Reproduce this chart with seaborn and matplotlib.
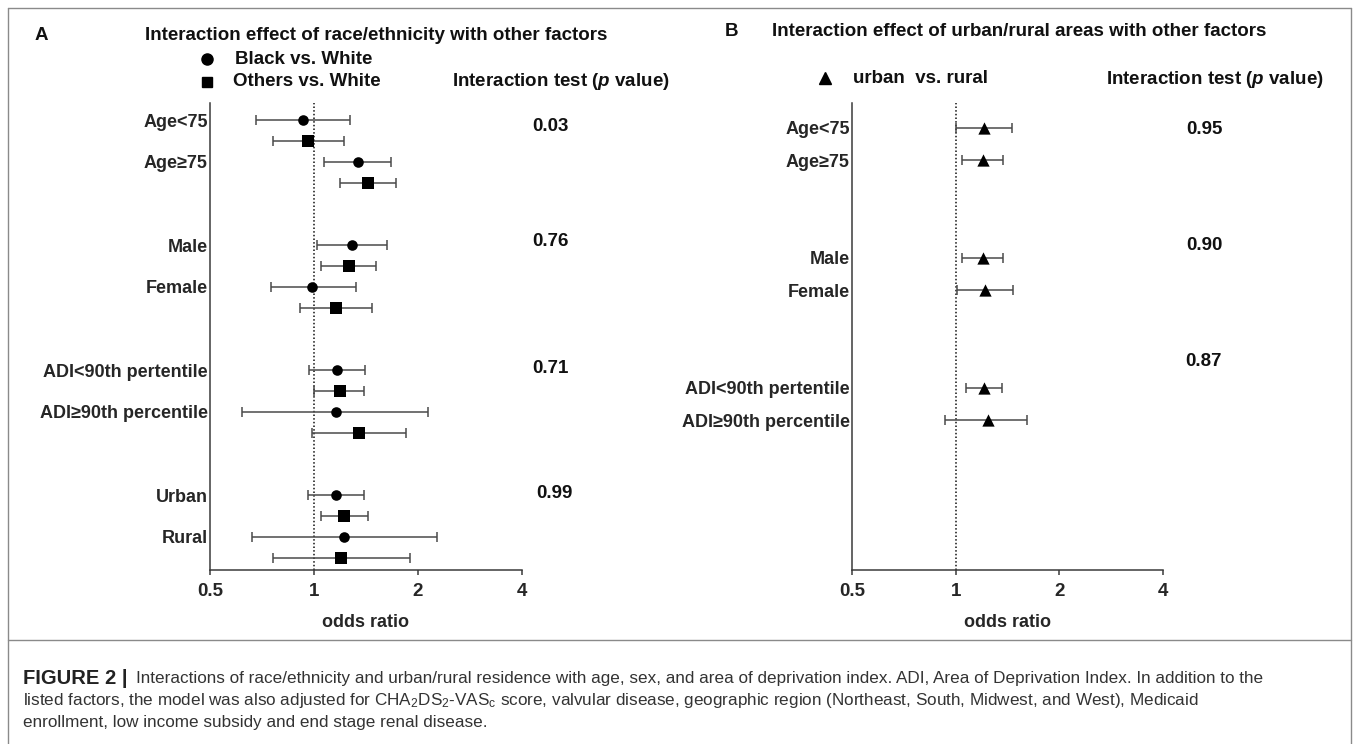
import numpy as np
import pandas as pd
import matplotlib
matplotlib.use("Agg")
import matplotlib.pyplot as plt
import seaborn as sns
from matplotlib.lines import Line2D
from matplotlib.ticker import NullLocator

# ---------------- data ----------------
cat_a = ["Age<75", "Age≥75", "Male", "Female",
         "ADI<90th pertentile", "ADI≥90th percentile", "Urban", "Rural"]
black_or = [0.93, 1.34, 1.29, 0.99, 1.17, 1.155, 1.16, 1.22]
black_lo = [0.68, 1.07, 1.02, 0.75, 0.97, 0.62, 0.96, 0.66]
black_hi = [1.27, 1.67, 1.63, 1.32, 1.41, 2.14, 1.40, 2.27]
others_or = [0.96, 1.43, 1.26, 1.16, 1.19, 1.35, 1.22, 1.20]
others_lo = [0.76, 1.19, 1.05, 0.91, 1.00, 0.99, 1.05, 0.76]
others_hi = [1.22, 1.73, 1.51, 1.47, 1.40, 1.85, 1.43, 1.90]
p_a = ["0.03", "0.76", "0.71", "0.99"]

cat_b = ["Age<75", "Age≥75", "Male", "Female",
         "ADI<90th pertentile", "ADI≥90th percentile"]
urban_or = [1.21, 1.20, 1.20, 1.22, 1.21, 1.24]
urban_lo = [1.00, 1.04, 1.04, 1.01, 1.07, 0.93]
urban_hi = [1.46, 1.37, 1.37, 1.47, 1.36, 1.61]
p_b = ["0.95", "0.90", "0.87"]

xticks = [0.5, 1, 2, 4]
xtick_labels = ["0.5", "1", "2", "4"]

# ---------------- style ----------------
W, H = 1358, 744
sns.set_style("ticks")
plt.rcParams['font.family'] = ['Liberation Sans', 'DejaVu Sans']
plt.rcParams['mathtext.fontset'] = 'custom'
plt.rcParams['mathtext.rm'] = 'Liberation Sans'
plt.rcParams['mathtext.it'] = 'Liberation Sans:italic:bold'
plt.rcParams['mathtext.bf'] = 'Liberation Sans:bold'

fig = plt.figure(figsize=(W / 100, H / 100), dpi=100)
fig.patch.set_facecolor('white')


def fx(x):
    return x / W


def fy(y):
    return 1 - y / H


AX_TOP, AX_BOT = 103, 570
SPINE = '#3a3a3a'
ERR = '#4a4a4a'


def make_ax(left_px, right_px):
    return fig.add_axes([fx(left_px), fy(AX_BOT), (right_px - left_px) / W,
                         (AX_BOT - AX_TOP) / H])


def style(ax):
    ax.set_xscale('log', base=2)
    ax.set_xlim(0.5, 4)
    ax.set_xticks(xticks)
    ax.set_xticklabels(xtick_labels)
    ax.xaxis.set_minor_locator(NullLocator())
    for s in ['top', 'right']:
        ax.spines[s].set_visible(False)
    for s in ['left', 'bottom']:
        ax.spines[s].set_color(SPINE)
        ax.spines[s].set_linewidth(1.1)
    ax.tick_params(axis='x', direction='out', length=3.6, width=1.1,
                   color=SPINE, pad=6, labelsize=13.5)
    for t in ax.get_xticklabels():
        t.set_fontweight('bold')
    ax.tick_params(axis='y', length=0, pad=1.5, labelsize=13)
    for t in ax.get_yticklabels():
        t.set_fontweight('bold')
    ax.set_xlabel('odds ratio', fontsize=13, fontweight='bold', labelpad=10)
    ax.set_ylabel('')
    ax.axvline(1, color='#111111', lw=1.1, ls=(0, (1, 1.4)), zorder=1)
    ax.set_facecolor('none')


def draw_series(ax, orr, lo, hi, pos, marker, s):
    orr = np.asarray(orr); lo = np.asarray(lo); hi = np.asarray(hi)
    ax.errorbar(orr, pos, xerr=[orr - lo, hi - orr], fmt='none',
                ecolor=ERR, elinewidth=1.1, capsize=3.8, capthick=1.1, zorder=2)
    sns.scatterplot(x=orr, y=pos, marker=marker, s=s, color='black',
                    edgecolor='black', linewidth=0, ax=ax, zorder=3, legend=False)


# ---------------- Panel A ----------------
axA = make_ax(210, 521.7)
idx_a = np.arange(len(cat_a))
pos_black = 6 * (idx_a // 2) + 2 * (idx_a % 2)
pos_others = pos_black + 1
draw_series(axA, black_or, black_lo, black_hi, pos_black, 'o', 58)
draw_series(axA, others_or, others_lo, others_hi, pos_others, 's', 64)
axA.set_ylim(21.59, -0.82)
axA.set_yticks(pos_black)
axA.set_yticklabels(cat_a)
style(axA)

# ---------------- Panel B ----------------
axB = make_ax(851.9, 1163.1)
idx_b = np.arange(len(cat_b))
pos_urban = 4 * (idx_b // 2) + (idx_b % 2)
draw_series(axB, urban_or, urban_lo, urban_hi, pos_urban, '^', 78)
axB.set_ylim(13.6, -0.76)
axB.set_yticks(pos_urban)
axB.set_yticklabels(cat_b)
style(axB)

# ---------------- annotations ----------------
TS = 13.5


def ftext(x, y, s, **kw):
    kw.setdefault('fontsize', TS)
    kw.setdefault('fontweight', 'bold')
    kw.setdefault('va', 'center')
    kw.setdefault('ha', 'left')
    kw.setdefault('color', '#111111')
    return fig.text(fx(x), fy(y), s, **kw)


def fmarker(x, y, m, ms):
    fig.add_artist(Line2D([fx(x)], [fy(y)], marker=m, ms=ms, color='black',
                          ls='none', transform=fig.transFigure))


ftext(41.5, 35, "A", ha='center')
ftext(145, 35, "Interaction effect of race/ethnicity with other factors")
fmarker(206.7, 59.3, 'o', 8)
ftext(235, 59.3, "Black vs. White")
fmarker(206.7, 81.7, 's', 7.5)
ftext(233, 81.7, "Others vs. White")
ftext(452, 81, r"Interaction test ($\mathit{p}$ value)")
for txt, (px, py) in zip(p_a, [(550, 126.7), (550, 241.7), (550, 368.3), (554, 493.3)]):
    ftext(px, py, txt, ha='center')

ftext(731, 32, "B", ha='center')
ftext(772, 32, "Interaction effect of urban/rural areas with other factors")
fmarker(825, 78.3, '^', 9)
ftext(853, 78.3, "urban  vs. rural")
ftext(1106, 80, r"Interaction test ($\mathit{p}$ value)")
for txt, (px, py) in zip(p_b, [(1204, 130), (1204, 245), (1204, 361.7)]):
    ftext(px, py, txt, ha='center')

# caption
CS = 12.3
CC = '#333333'
ftext(22.7, 678, "FIGURE 2 |", fontsize=14.5, color='#222222')
ftext(136, 678, "Interactions of race/ethnicity and urban/rural residence with age, sex, "
      "and area of deprivation index. ADI, Area of Deprivation Index. In addition to the",
      fontsize=CS, fontweight='normal', color=CC)
ftext(22.7, 700.5, r"listed factors, the model was also adjusted for CHA$_2$DS$_2$-VAS$_\mathrm{c}$ "
      "score, valvular disease, geographic region (Northeast, South, Midwest, and West), Medicaid",
      fontsize=CS, fontweight='normal', color=CC)
ftext(22.7, 723, "enrollment, low income subsidy and end stage renal disease.",
      fontsize=CS, fontweight='normal', color=CC)

# frame lines
BC = '#8a8a8a'
for (x0, y0, x1, y1) in [(8, 8, 1351, 8), (8, 8, 8, 744), (1351, 8, 1351, 744), (8, 640, 1351, 640)]:
    fig.add_artist(Line2D([fx(x0), fx(x1)], [fy(y0), fy(y1)], color=BC, lw=1.0,
                          transform=fig.transFigure))

fig.savefig("out.png", dpi=100)
